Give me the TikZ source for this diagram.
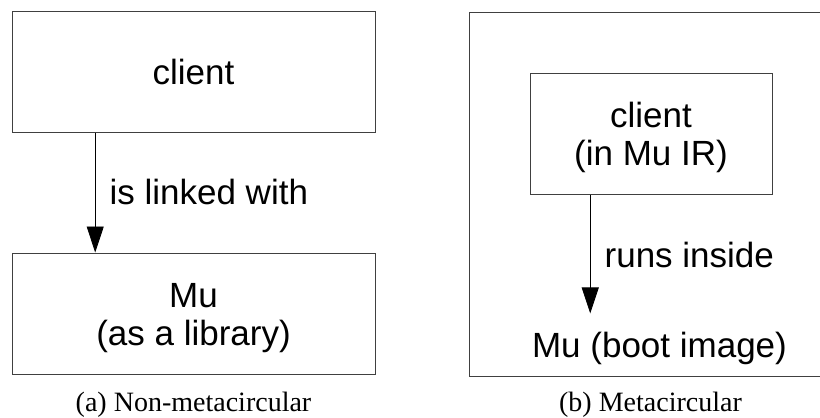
\documentclass[tikz,border=0pt]{standalone}
\usepackage{fontspec}
\setmainfont{Liberation Serif}
\newfontfamily\boxfont{Liberation Sans}
\usetikzlibrary{arrows.meta, positioning, calc}

\newcommand{\tallstrut}{\rule{0pt}{33pt}}

\begin{document}
\begin{tikzpicture}[
    x=1pt, y=-1pt,
    % Box and text styles
    blockbox/.style={draw=black!75, line width=1pt, inner sep=0pt, align=center,
                     font=\boxfont\fontsize{35}{38}\selectfont},
    widebox/.style={blockbox, minimum width=363pt, minimum height=121pt},
    innerbox/.style={blockbox, minimum width=242pt, minimum height=121pt},
    frameline/.style={draw=black!75, line width=1pt},
    edgetext/.style={font=\boxfont\fontsize{35}{38}\selectfont, inner sep=0pt, anchor=base west},
    subcap/.style={font=\fontsize{28}{32}\selectfont, inner sep=0pt, anchor=base},
    link/.style={-{Triangle[width=17pt,length=26pt]}, line width=0.8pt}
]
\useasboundingbox (0,0) rectangle (820,418);

% (a) Non-metacircular
\node[widebox] (client_a) at (193.5,71.5) {client};
\node[widebox] (mu_a) at (193.5,313.5) {\tallstrut Mu\\(as a library)};
\draw[link] ($(client_a.south west)!0.23!(client_a.south east)$) -- ($(mu_a.north west)!0.23!(mu_a.north east)$)
    node[edgetext, pos=0.6, xshift=14pt] {is linked with};
\node[subcap] (cap_a) at (193.5,411) {(a) Non-metacircular};

% (b) Metacircular
\draw[frameline] (820,12) -| (469,376) -- (820,376);
\node[innerbox] (client_b) at (651,133.5) {\tallstrut client\\(in Mu IR)};
\node[edgetext, anchor=base, inner xsep=0pt, inner ysep=18pt] (mu_b) at (659.5,357) {Mu (boot image)};
\coordinate (run_start) at ($(client_b.south west)!0.25!(client_b.south east)$);
\draw[link] (run_start) -- (run_start |- mu_b.north)
    node[edgetext, pos=0.61, xshift=14pt] {runs inside};
\node[subcap] (cap_b) at (650.5,411) {(b) Metacircular};

\end{tikzpicture}
\end{document}
